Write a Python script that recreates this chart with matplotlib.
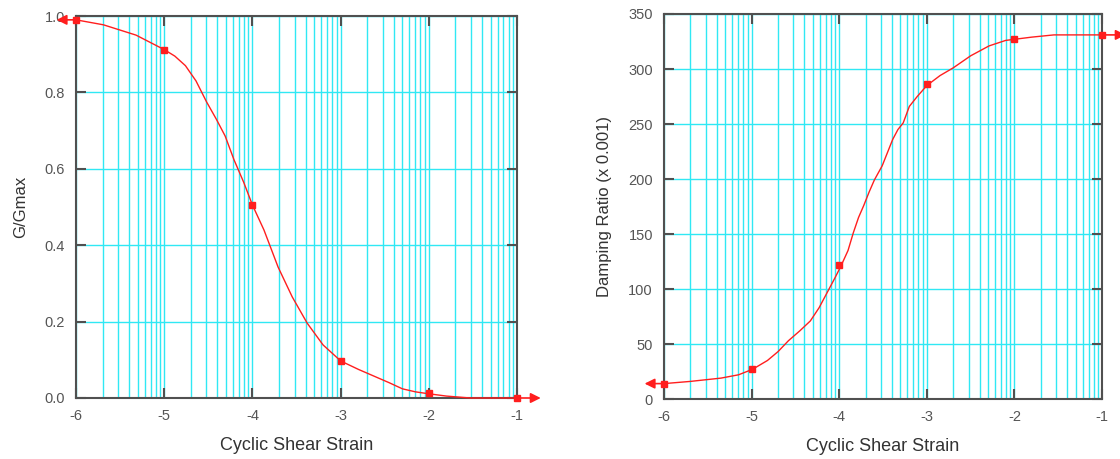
import matplotlib
matplotlib.use('Agg')
import matplotlib.pyplot as plt
import numpy as np

plt.rcParams['font.family'] = ['Liberation Sans', 'DejaVu Sans']
plt.rcParams['axes.unicode_minus'] = False

# G/Gmax curve (x = log10 of cyclic shear strain)
g_x = [-6.0, -5.69, -5.32, -5.0, -4.88, -4.76, -4.64, -4.52, -4.41, -4.31, -4.21,
       -4.1, -4.0, -3.87, -3.71, -3.55, -3.38, -3.2, -3.0, -2.8, -2.62, -2.45,
       -2.3, -2.15, -2.0, -1.8, -1.53, -1.0]
g_y = [0.99, 0.977, 0.95, 0.912, 0.895, 0.87, 0.83, 0.775, 0.73, 0.686, 0.624,
       0.565, 0.505, 0.44, 0.343, 0.265, 0.196, 0.139, 0.097, 0.075, 0.057, 0.04,
       0.024, 0.016, 0.011, 0.005, 0.0, 0.0]
g_mark_x = [-6, -5, -4, -3, -2, -1]
g_mark_y = [0.99, 0.91, 0.505, 0.097, 0.012, 0.0]

# damping ratio curve (x 0.001)
d_x = [-6.0, -5.7, -5.35, -5.15, -4.99, -4.82, -4.7, -4.58, -4.45, -4.33, -4.23,
       -4.13, -4.05, -3.98, -3.9, -3.84, -3.78, -3.72, -3.66, -3.6, -3.51, -3.45,
       -3.39, -3.33, -3.27, -3.2, -3.11, -3.0, -2.85, -2.7, -2.5, -2.29, -2.1,
       -2.0, -1.8, -1.55, -1.0]
d_y = [14, 16, 19, 22, 27, 35, 43, 53, 62, 71, 83, 98, 110, 121, 135, 151, 165,
       176, 188, 199, 212, 224, 236, 245, 251, 266, 275, 285, 294, 301, 312, 321,
       326, 327, 329, 331, 331]
d_mark_x = [-6, -5, -4, -3, -2, -1]
d_mark_y = [14, 27, 122, 286, 327, 331]

x_ticks = [-6, -5, -4, -3, -2, -1]
g_ticks = [0.0, 0.2, 0.4, 0.6, 0.8, 1.0]
g_labels = ['0.0', '0.2', '0.4', '0.6', '0.8', '1.0']
d_ticks = [0, 50, 100, 150, 200, 250, 300, 350]
d_labels = ['0', '50', '100', '150', '200', '250', '300', '350']

CYAN = '#30e8f4'
RED = '#ff1e1e'
FRAME = '#505050'

fig = plt.figure(figsize=(11.2, 4.59), dpi=100)
ax1 = fig.add_axes([0.0679, 0.1329, 0.3938, 0.8322])
ax2 = fig.add_axes([0.5929, 0.1307, 0.3911, 0.8388])


def style(ax, ylim, yticks, ylabels, ylabel):
    ax.set_xlim(-6, -1)
    ax.set_ylim(*ylim)
    # log-decade grid
    for d in range(-6, -1):
        for k in range(1, 10):
            ax.axvline(d + np.log10(k), color=CYAN, lw=1.0, zorder=0)
    for t in yticks:
        ax.axhline(t, color=CYAN, lw=1.0, zorder=0)
    ax.set_xticks(x_ticks)
    ax.set_xticklabels([str(t) for t in x_ticks])
    ax.set_yticks(yticks)
    ax.set_yticklabels(ylabels)
    ax.tick_params(direction='in', length=7.5, width=1.5, color=FRAME,
                   top=True, right=True, labelsize=10.5, labelcolor='#555555', pad=8)
    for s in ax.spines.values():
        s.set_color(FRAME)
        s.set_linewidth(1.5)
    ax.set_xlabel('Cyclic Shear Strain', fontsize=13, color='#333333', labelpad=10)
    ax.set_ylabel(ylabel, fontsize=12, color='#333333', labelpad=12)


def arrows(ax, xs, ys):
    kw = dict(arrowstyle='<|-,head_length=0.6,head_width=0.3', color=RED, lw=1.2,
              shrinkA=0, shrinkB=0)
    ax.annotate('', xy=(xs[0], ys[0]), xytext=(-14, 0), textcoords='offset points',
                arrowprops=kw, annotation_clip=False)
    ax.annotate('', xy=(xs[-1], ys[-1]), xytext=(17, 0), textcoords='offset points',
                arrowprops=kw, annotation_clip=False)


style(ax1, (0, 1.0), g_ticks, g_labels, 'G/Gmax')
ax1.plot(g_x, g_y, color=RED, lw=1.0, clip_on=False, zorder=3)
ax1.plot(g_mark_x, g_mark_y, 's', color=RED, ms=5, clip_on=False, zorder=4)
arrows(ax1, g_mark_x, g_mark_y)

style(ax2, (0, 350), d_ticks, d_labels, 'Damping Ratio (x 0.001)')
ax2.plot(d_x, d_y, color=RED, lw=1.0, clip_on=False, zorder=3)
ax2.plot(d_mark_x, d_mark_y, 's', color=RED, ms=5, clip_on=False, zorder=4)
arrows(ax2, d_mark_x, d_mark_y)

fig.savefig('out.png', dpi=100)
